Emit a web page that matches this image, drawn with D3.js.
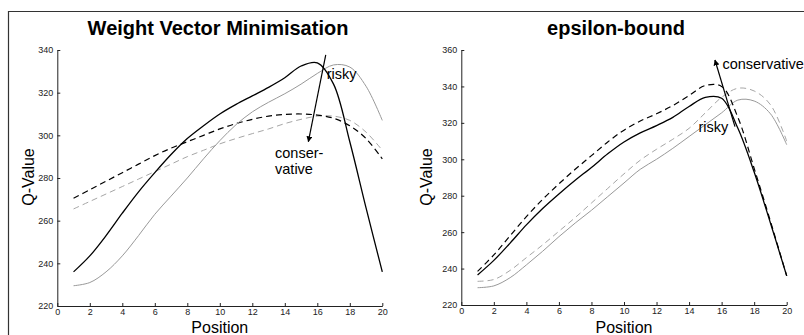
<!DOCTYPE html>
<html>
<head>
<meta charset="utf-8">
<script src="https://cdn.jsdelivr.net/npm/d3@7/dist/d3.min.js"></script>
<style>
  body { margin: 0; background: #fff; }
  svg { display: block; font-family: "Liberation Sans", Arial, sans-serif; }
  .axis path, .axis line { stroke: #222; }
  .axis text { font-size: 9px; fill: #222; }
</style>
</head>
<body>
<div id="chart"></div>
<script>
// positions along the x axis
const positions = [1, 2, 3, 4, 5, 6, 7, 8, 9, 10, 11, 12, 13, 14, 15, 16, 17, 18, 19, 20];

// left panel: Weight Vector Minimisation
const wvmBlack       = [236, 243.5, 253, 263.5, 273.5, 282.5, 291, 298.5, 304.5, 310, 314.5, 318.5, 322.5, 327, 332.5, 334, 324, 297, 266, 236];
const wvmGrey        = [229.5, 231, 236, 243.5, 253, 263, 271.5, 280, 289, 297.5, 305, 311, 315.5, 319.5, 324, 329, 333, 332, 323, 307];
const wvmBlackDashed = [270.5, 274.5, 278.5, 282.5, 286.5, 290.5, 294, 297, 300, 303, 305.5, 307.5, 309, 309.8, 310, 309.5, 308, 304.5, 298.5, 289];
const wvmGreyDashed  = [265.5, 269, 272.5, 276, 279.5, 283, 286.5, 290, 293, 296, 298.5, 300.8, 303, 305.5, 307.5, 309, 309, 307, 301.5, 293];

// right panel: epsilon-bound
const epsBlack       = [236.5, 244.5, 254, 264, 273, 281, 288.5, 295.5, 303, 309.5, 314.5, 318.5, 323, 329, 334, 333.5, 317, 293, 265, 236];
const epsGrey        = [229.5, 230.5, 235, 242, 249.5, 257.5, 265, 272, 279.5, 287, 294.5, 300, 306, 312.5, 319, 325.5, 332.5, 332, 325, 308];
const epsBlackDashed = [238.5, 247.5, 258, 268.5, 278, 286.5, 294.5, 302, 309.5, 316, 321, 325, 329.5, 335, 340.5, 340, 323, 295, 266, 236];
const epsGreyDashed  = [233, 234, 239, 246, 253, 260.5, 268, 276, 284, 292, 299.5, 305.5, 311, 317, 325.5, 334, 339, 337.5, 330, 310];

// tick labels
const xTicks = [0, 2, 4, 6, 8, 10, 12, 14, 16, 18, 20];
const wvmYTicks = [220, 240, 260, 280, 300, 320, 340];
const epsYTicks = [220, 240, 260, 280, 300, 320, 340, 360];

// annotations in data units: arrow [from, to] and text labels
const wvmArrow = [[16.52, 337.7], [15.45, 297]];
const wvmLabels = [
  {text: 'risky', x: 16.58, y: 326.4, anchor: 'start'},
  {text: 'conser-', x: 13.4, y: 289.2, anchor: 'start'},
  {text: 'vative', x: 13.4, y: 282.1, anchor: 'start'}
];
const epsArrow = [[16.82, 317.9], [15.59, 354.5]];
const epsLabels = [
  {text: 'conservative', x: 16.05, y: 349.6, anchor: 'start'},
  {text: 'risky', x: 16.41, y: 315.1, anchor: 'end'}
];

const width = 804, height = 335;

const svg = d3.select('#chart').append('svg')
  .attr('width', width)
  .attr('height', height);

svg.append('rect').attr('width', width).attr('height', height).attr('fill', '#fff');

// arrow marker
svg.append('defs').append('marker')
  .attr('id', 'head')
  .attr('viewBox', '0 0 10 10')
  .attr('refX', 9).attr('refY', 5)
  .attr('markerWidth', 6).attr('markerHeight', 6)
  .attr('markerUnits', 'userSpaceOnUse')
  .attr('orient', 'auto')
  .append('path')
  .attr('d', 'M0,0L10,5L0,10z')
  .attr('fill', '#000');

// outer frame (top and left edge)
svg.append('path')
  .attr('d', 'M8.5,' + height + 'V11.5H' + width)
  .attr('fill', 'none')
  .attr('stroke', '#333')
  .attr('stroke-width', 1.2);

function drawPanel(cfg) {
  const x = d3.scaleLinear().domain([0, 20]).range([cfg.left, cfg.right]);
  const y = d3.scaleLinear().domain(cfg.yDomain).range([cfg.bottom, 50]);
  const g = svg.append('g');

  g.append('g')
    .attr('class', 'axis')
    .attr('transform', 'translate(0,' + cfg.bottom + ')')
    .call(d3.axisBottom(x).tickValues(xTicks).tickSizeInner(-3).tickSizeOuter(0).tickPadding(3));

  g.append('g')
    .attr('class', 'axis')
    .attr('transform', 'translate(' + cfg.left + ',0)')
    .call(d3.axisLeft(y).tickValues(cfg.yTicks).tickSizeInner(-3).tickSizeOuter(0).tickPadding(4));

  const line = d3.line()
    .x((d, i) => x(positions[i]))
    .y(d => y(d))
    .curve(d3.curveCatmullRom.alpha(0.5));

  cfg.series.forEach(s => {
    g.append('path')
      .datum(s.values)
      .attr('d', line)
      .attr('fill', 'none')
      .attr('stroke', s.color)
      .attr('stroke-width', s.width)
      .attr('stroke-dasharray', s.dash);
  });

  // arrow
  g.append('line')
    .attr('x1', x(cfg.arrow[0][0])).attr('y1', y(cfg.arrow[0][1]))
    .attr('x2', x(cfg.arrow[1][0])).attr('y2', y(cfg.arrow[1][1]))
    .attr('stroke', '#000')
    .attr('stroke-width', 1.2)
    .attr('marker-end', 'url(#head)');

  g.selectAll('.note')
    .data(cfg.labels)
    .enter().append('text')
    .attr('class', 'note')
    .attr('x', d => x(d.x))
    .attr('y', d => y(d.y))
    .attr('text-anchor', d => d.anchor)
    .style('font-size', '14.5px')
    .text(d => d.text);

  // title
  g.append('text')
    .attr('x', cfg.titleX)
    .attr('y', 35)
    .attr('text-anchor', 'middle')
    .style('font-size', '20px')
    .style('font-weight', 'bold')
    .text(cfg.title);

  // axis labels
  g.append('text')
    .attr('transform', 'translate(' + cfg.yLabelX + ',177) rotate(-90)')
    .attr('text-anchor', 'middle')
    .style('font-size', '16px')
    .text('Q-Value');

  g.append('text')
    .attr('x', x(10))
    .attr('y', 333)
    .attr('text-anchor', 'middle')
    .style('font-size', '16px')
    .text('Position');
}

drawPanel({
  left: 57.3, right: 382.3, bottom: 306,
  yDomain: [220, 340], yTicks: wvmYTicks,
  title: 'Weight Vector Minimisation', titleX: 218, yLabelX: 34,
  series: [
    {values: wvmGreyDashed, color: '#a6a6a6', width: 1, dash: '6,4'},
    {values: wvmBlackDashed, color: '#000', width: 1.2, dash: '6,4'},
    {values: wvmGrey, color: '#999', width: 1, dash: null},
    {values: wvmBlack, color: '#000', width: 1.3, dash: null}
  ],
  arrow: wvmArrow, labels: wvmLabels
});

drawPanel({
  left: 461.3, right: 786.7, bottom: 305,
  yDomain: [220, 360], yTicks: epsYTicks,
  title: 'epsilon-bound', titleX: 616, yLabelX: 432,
  series: [
    {values: epsGreyDashed, color: '#a6a6a6', width: 1, dash: '6,4'},
    {values: epsGrey, color: '#999', width: 1, dash: null},
    {values: epsBlackDashed, color: '#000', width: 1.2, dash: '6,4'},
    {values: epsBlack, color: '#000', width: 1.3, dash: null}
  ],
  arrow: epsArrow, labels: epsLabels
});
</script>
</body>
</html>
